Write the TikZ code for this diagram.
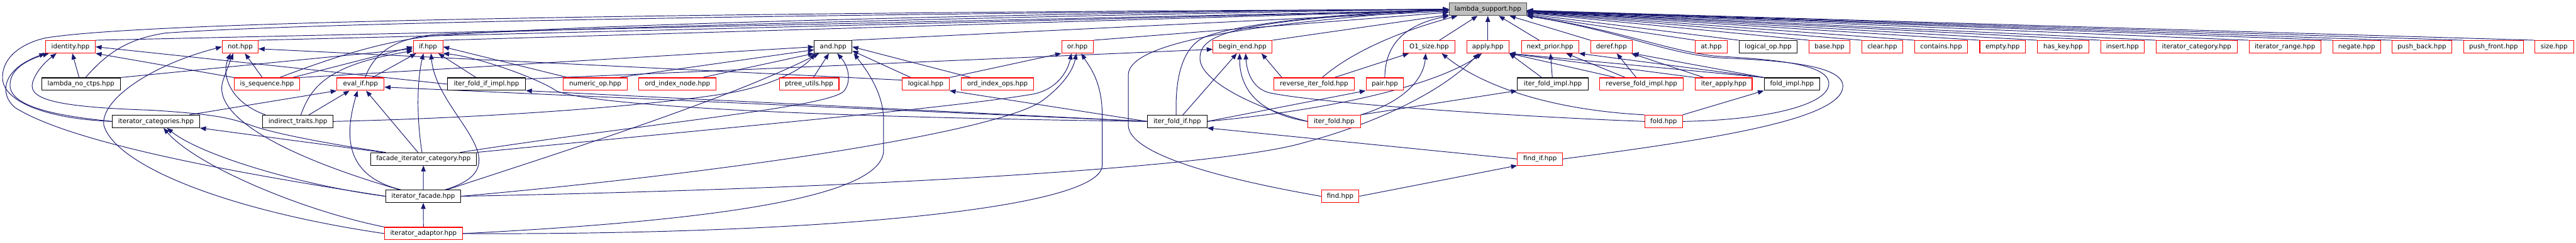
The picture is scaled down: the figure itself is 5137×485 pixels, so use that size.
\documentclass[tikz,border=0pt]{standalone}
\usepackage{fontspec}
\newfontfamily\dvs{DejaVu Sans}
\newcommand{\gfnt}{\dvs\fontsize{6.45pt}{7.5pt}\selectfont}
\usetikzlibrary{arrows.meta,calc,backgrounds}
\definecolor{eblue}{HTML}{191970}
\begin{document}
\begin{tikzpicture}[x=0.5pt,y=-0.5pt,
  box/.style={draw, line width=0.65pt, fill=white, inner sep=0pt, minimum height=12.5pt, font=\gfnt, text height=4.9pt, text depth=1.5pt},
  rb/.style={box, draw=red},
  kb/.style={box, draw=black},
  rootb/.style={box, fill=black!25, draw=black!70},
  bw/.style={minimum width=#1*0.5pt},
  edge/.style={draw=eblue, line width=0.6pt, -{Triangle[length=6pt,width=4.6pt]}}]
\useasboundingbox (0,0) rectangle (5137,485);
% ---------- nodes ----------
\node[rootb,bw=154] (root) at (2967,18.5) {lambda\_support.hpp};
% row 1
\node[rb,bw=99] (identity) at (140.5,93.5) {identity.hpp};
\node[rb,bw=72] (nott) at (479,93.5) {not.hpp};
\node[rb,bw=59] (iff) at (853.5,93.5) {if.hpp};
\node[kb,bw=75] (andd) at (1661.5,93.5) {and.hpp};
\node[rb,bw=63] (orr) at (2148.5,93.5) {or.hpp};
\node[rb,bw=118] (beginend) at (2478,93.5) {begin\_end.hpp};
\node[rb,bw=102] (osize) at (2850,93.5) {O1\_size.hpp};
\node[rb,bw=84] (apply) at (2967,93.5) {apply.hpp};
\node[rb,bw=114] (nextprior) at (3091,93.5) {next\_prior.hpp};
\node[rb,bw=83] (deref) at (3213.5,93.5) {deref.hpp};
\node[rb,bw=63] (atn) at (3412.5,93.5) {at.hpp};
\node[kb,bw=116] (logicalop) at (3526,93.5) {logical\_op.hpp};
\node[rb,bw=81] (base) at (3648.5,93.5) {base.hpp};
\node[rb,bw=81] (clear) at (3753.5,93.5) {clear.hpp};
\node[rb,bw=106] (contains) at (3871,93.5) {contains.hpp};
\node[rb,bw=91] (empty) at (3993.5,93.5) {empty.hpp};
\node[rb,bw=102] (haskey) at (4114,93.5) {has\_key.hpp};
\node[rb,bw=87] (insert) at (4232.5,93.5) {insert.hpp};
\node[rb,bw=161] (itercat) at (4380.5,93.5) {iterator\_category.hpp};
\node[rb,bw=143] (iterrange) at (4556.5,93.5) {iterator\_range.hpp};
\node[rb,bw=95] (negate) at (4699.5,93.5) {negate.hpp};
\node[rb,bw=119] (pushback) at (4829.5,93.5) {push\_back.hpp};
\node[rb,bw=119] (pushfront) at (4972.5,93.5) {push\_front.hpp};
\node[rb,bw=77] (size) at (5093.5,93.5) {size.hpp};
% row 2
\node[kb,bw=157] (lnc) at (161.5,168) {lambda\_no\_ctps.hpp};
\node[rb,bw=131] (isseq) at (532.5,168) {is\_sequence.hpp};
\node[rb,bw=94] (evalif) at (719,168) {eval\_if.hpp};
\node[kb,bw=156] (ifii) at (970,168) {iter\_fold\_if\_impl.hpp};
\node[rb,bw=128] (numop) at (1187,168) {numeric\_op.hpp};
\node[rb,bw=154] (oin) at (1351,168) {ord\_index\_node.hpp};
\node[rb,bw=119] (ptree) at (1613.5,168) {ptree\_utils.hpp};
\node[rb,bw=94] (logical) at (1846,168) {logical.hpp};
\node[rb,bw=144] (oio) at (1989,168) {ord\_index\_ops.hpp};
\node[rb,bw=161] (rif) at (2620.5,168) {reverse\_iter\_fold.hpp};
\node[rb,bw=75] (pair) at (2761.5,168) {pair.hpp};
\node[kb,bw=141] (ifimpl) at (3096.5,168) {iter\_fold\_impl.hpp};
\node[rb,bw=167] (rfi) at (3273.5,168) {reverse\_fold\_impl.hpp};
\node[rb,bw=113] (iterapply) at (3437.5,168) {iter\_apply.hpp};
\node[kb,bw=111] (foldimpl) at (3573.5,168) {fold\_impl.hpp};
% row 3
\node[kb,bw=174] (itcs) at (311,242.5) {iterator\_categories.hpp};
\node[kb,bw=140] (itr) at (594,242.5) {indirect\_traits.hpp};
\node[kb,bw=119] (ifi) at (2347.5,242.5) {iter\_fold\_if.hpp};
\node[rb,bw=105] (iterfold) at (2660.5,242.5) {iter\_fold.hpp};
\node[rb,bw=75] (fold) at (3317.5,242.5) {fold.hpp};
% row 4
\node[kb,bw=211] (fic) at (844.5,317.5) {facade\_iterator\_category.hpp};
\node[rb,bw=90] (findif) at (3071,317.5) {find\_if.hpp};
% row 5
\node[kb,bw=150] (ifa) at (844,392) {iterator\_facade.hpp};
\node[rb,bw=75] (find) at (2672.5,392) {find.hpp};
% row 6
\node[rb,bw=155] (iad) at (844.5,466.5) {iterator\_adaptor.hpp};
% ---------- edges ----------
\begin{scope}[on background layer]
\fill[white] (0,0) rectangle (5137,485);
% row 1 to root
\foreach \n in {identity,nott,iff,andd,orr,beginend} \draw[edge] (\n.north east) -- (root);
\foreach \n in {osize,apply,nextprior} \draw[edge] (\n) -- (root);
\foreach \n in {deref,atn,logicalop,base,clear,contains,empty,haskey,insert,itercat,iterrange,negate,pushback,pushfront,size} \draw[edge] (\n.north west) -- (root);
% other nodes to root
\draw[edge] ($(lnc.north)+(9,0)$) .. controls (210,110) and (250,78) .. (330,66) .. controls (700,40) and (2000,25) .. (root.west);
\draw[edge] (itcs.west) .. controls (100,238) and (5,205) .. (5,155) .. controls (5,110) and (50,85) .. (90,76) .. controls (300,40) and (1500,25) .. (root.west);
\draw[edge] ($(isseq.north)+(25,0)$) .. controls (650,120) and (750,85) .. (860,72) .. controls (1200,45) and (2300,22) .. (root.west);
\draw[edge] ($(evalif.north)+(9,0)$) .. controls (745,110) and (780,75) .. (880,68) .. controls (1500,45) and (2400,25) .. (root.west);
\draw[edge] ($(ifi.north)+(-2,0)$) .. controls (2343,150) and (2360,95) .. (2400,75) .. controls (2470,45) and (2700,25) .. (root.west);
\draw[edge] (iterfold.west) .. controls (2500,215) and (2390,160) .. (2393,115) .. controls (2393,60) and (2500,40) .. (root.west);
\draw[edge] (find.west) .. controls (2450,360) and (2250,310) .. (2250,250) -- (2250,150) .. controls (2250,90) and (2450,50) .. (root.west);
\draw[edge] (pair.north) .. controls (2762,90) and (2800,50) .. (root.south west);
\draw[edge] ($(rif.north)+(16,0)$) .. controls (2700,100) and (2800,60) .. ($(root.south west)+(17,0)$);
\draw[edge] (fold.east) .. controls (3520,240) and (3647,210) .. (3647,167) .. controls (3647,125) and (3520,118) .. (3420,112) .. controls (3320,100) and (3230,60) .. (root.south east);
\draw[edge] (findif.east) .. controls (3400,280) and (3675,240) .. (3675,172) .. controls (3675,125) and (3520,120) .. (3420,115) .. controls (3310,103) and (3230,62) .. (root.south east);
% identity
\draw[edge] (lnc) -- (identity);
\draw[edge] (itcs.west) .. controls (120,232) and (20,215) .. (20,170) .. controls (20,135) and (60,118) .. ($(identity.south)+(-43,0)$);
\draw[edge] (ifa.west) .. controls (500,350) and (150,290) .. (30,215) .. controls (0,190) and (0,140) .. (identity.south west);
\draw[edge] ($(fic.north west)+(31,0)$) .. controls (640,285) and (540,265) .. (500,250) .. controls (460,236) and (430,228) .. (300,220) .. controls (120,214) and (55,200) .. (65,165) .. controls (72,140) and (95,120) .. ($(identity.south)+(-28,0)$);
\draw[edge] (isseq.north west) -- (identity.south east);
\draw[edge] (ifii.west) -- (identity.east);
% not
\draw[edge] (iad.west) .. controls (450,420) and (230,330) .. (207,250) .. controls (200,200) and (300,130) .. (nott.west);
\draw[edge] ($(ifa.north west)+(28,0)$) .. controls (560,310) and (420,230) .. (445,160) .. controls (452,140) and (458,125) .. ($(nott.south)+(-14,0)$);
\draw[edge] ($(itr.north west)+(6,0)$) .. controls (460,205) and (440,150) .. ($(nott.south)+(-19,0)$);
\draw[edge] (isseq) -- (nott);
\draw[edge] ($(logical.west)+(0,-8)$) -- ($(nott.east)+(0,4)$);
% if
\draw[edge] (lnc.north east) -- ($(iff.west)+(0,4)$);
\draw[edge] ($(isseq.north east)+(-15,0)$) -- (iff.west);
\draw[edge] (evalif) -- (iff);
\draw[edge] ($(itr.north)+(6,0)$) .. controls (620,175) and (650,130) .. ($(iff.west)+(0,8)$);
\draw[edge] ($(fic.north)+(-3,0)$) .. controls (830,230) and (832,160) .. ($(iff.south)+(-9,0)$);
\draw[edge] ($(ifa.north east)+(-32,0)$) .. controls (1050,330) and (870,230) .. ($(iff.south)+(6,0)$);
\draw[edge] (ifii) -- (iff);
\draw[edge] (ifi.west) .. controls (1700,235) and (1200,215) .. (1110,182) .. controls (1080,160) and (960,115) .. (iff.south east);
\draw[edge] ($(numop.north west)+(10,0)$) -- (iff.east);
% eval_if
\draw[edge] ($(itcs.north east)+(-21,0)$) -- (evalif.south west);
\draw[edge] (itr) -- (evalif);
\draw[edge] (fic) -- (evalif);
\draw[edge] ($(ifa.north west)+(31,0)$) .. controls (680,350) and (690,260) .. ($(evalif.south)+(-6,0)$);
\draw[edge] (ifi.west) -- ($(evalif.east)+(0,6)$);
% iterator_categories
\draw[edge] ($(fic.north west)+(25,0)$) -- (itcs.south east);
\draw[edge] (ifa.west) .. controls (600,370) and (400,310) .. ($(itcs.south)+(22,0)$);
\draw[edge] (iad.north west) .. controls (600,420) and (390,330) .. ($(itcs.south)+(15,0)$);
% facade chain
\draw[edge] (ifa) -- (fic);
\draw[edge] (iad) -- (ifa);
% and
\draw[edge] (isseq.north east) -- (andd.west);
\draw[edge] (itr.east) .. controls (1000,235) and (1300,210) .. (1440,188) .. controls (1530,175) and (1600,140) .. ($(andd.south west)+(2,0)$);
\draw[edge] ($(fic.north east)+(-33,0)$) .. controls (1300,245) and (1650,215) .. (1683,182) .. controls (1700,160) and (1690,130) .. ($(andd.south)+(8,0)$);
\draw[edge] ($(ifa.north east)+(-28,0)$) .. controls (1100,310) and (1450,200) .. ($(andd.south west)+(10,0)$);
\draw[edge] (iad.east) .. controls (1450,440) and (1762,390) .. (1762,300) -- (1762,240) .. controls (1762,180) and (1720,130) .. ($(andd.south east)+(3,0)$);
\draw[edge] ($(logical.north west)+(18,0)$) -- ($(andd.east)+(0,8)$);
\draw[edge] (ptree) -- (andd);
\draw[edge] ($(oin.north east)+(-28,0)$) -- (andd.south west);
\draw[edge] ($(numop.north east)+(-19,0)$) -- ($(andd.west)+(0,6)$);
\draw[edge] ($(oio.north west)+(20,0)$) -- (andd.east);
% or
\draw[edge] (fic.north east) .. controls (1500,250) and (1900,215) .. (2060,188) .. controls (2110,178) and (2130,140) .. ($(orr.south)+(-12,0)$);
\draw[edge] (ifa.east) .. controls (1500,340) and (2000,260) .. (2080,200) .. controls (2120,170) and (2140,140) .. ($(orr.south)+(-2,0)$);
\draw[edge] (iad.east) .. controls (1600,470) and (2198,420) .. (2198,330) -- (2198,230) .. controls (2198,160) and (2170,130) .. ($(orr.south)+(8,0)$);
\draw[edge] (logical.north east) -- (orr.south west);
% iter_fold_if & friends
\draw[edge] ($(ifii.north east)+(0,3)$) -- ($(beginend.west)+(0,5)$);
\draw[edge] (ifi.west) -- (ifii.south east);
\draw[edge] (ifi.west) -- (logical.south east);
\draw[edge] (ifi) -- (beginend);
\draw[edge] (ifi.east) -- (pair.south west);
\draw[edge] (ifi.east) .. controls (2700,215) and (2880,160) .. ($(apply.south)+(-12,0)$);
\draw[edge] (ifa.east) .. controls (1800,375) and (2450,330) .. (2600,285) .. controls (2750,245) and (2880,180) .. ($(apply.south)+(-18,0)$);
\draw[edge] (findif.west) -- (ifi.south east);
\draw[edge] (find.east) -- (findif.south west);
% iter_fold, reverse_iter_fold, fold
\draw[edge] (iterfold.west) .. controls (2500,225) and (2472,170) .. ($(beginend.south)+(-6,0)$);
\draw[edge] (iterfold.north east) .. controls (2810,200) and (2840,150) .. ($(osize.south)+(-7,0)$);
\draw[edge] (iterfold.north east) -- (ifimpl.south west);
\draw[edge] (rif) -- (osize);
\draw[edge] ($(rif.north west)+(17,0)$) -- ($(beginend.south east)+(-22,0)$);
\draw[edge] (fold.north west) .. controls (3100,220) and (2960,175) .. ($(osize.south)+(25,0)$);
\draw[edge] (fold.west) .. controls (3000,232) and (2620,205) .. (2530,185) .. controls (2495,175) and (2486,140) .. ($(beginend.south)+(6,0)$);
\draw[edge] (fold.north east) -- (foldimpl.south west);
% impl files
\draw[edge] (foldimpl.north west) -- (nextprior.south east);
\draw[edge] (foldimpl.north west) -- (deref.south east);
\draw[edge] (foldimpl.north west) -- (apply.south east);
\draw[edge] (iterapply) -- (deref);
\draw[edge] (iterapply.north west) -- (apply.south east);
\draw[edge] (rfi) -- (nextprior);
\draw[edge] (rfi) -- (deref);
\draw[edge] ($(rfi.north west)+(33,0)$) -- (apply.south east);
\draw[edge] (ifimpl) -- (nextprior);
\draw[edge] ($(ifimpl.north)+(-22,0)$) -- (apply.south east);
\end{scope}
\end{tikzpicture}
\end{document}
